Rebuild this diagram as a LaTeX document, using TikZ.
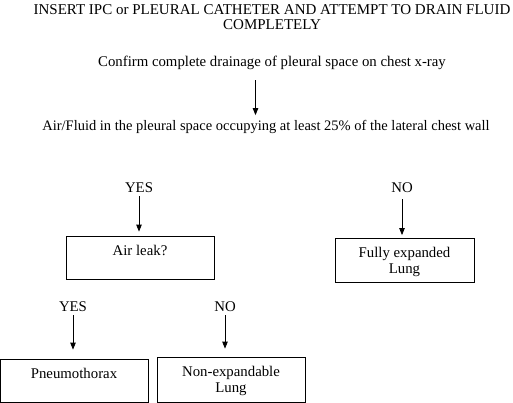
\documentclass[tikz,border=0pt]{standalone}
\usepackage{fontspec}
\setmainfont{Liberation Serif}
\usetikzlibrary{arrows.meta}
\newcommand\topst{\rule{0pt}{15.5pt}}
\newcommand\botst{\rule[-4.8pt]{0pt}{4.8pt}}
\newcommand\onetop{\rule{0pt}{11pt}}
\newcommand\onebot{\rule[-15.4pt]{0pt}{15.4pt}}
\begin{document}
\begin{tikzpicture}[x=1pt,y=-1pt,
  lbl/.style={inner sep=0pt, font=\fontsize{14.8}{16}\selectfont},
  box/.style={draw, line width=0.8pt, align=center, inner sep=0pt,
    font=\fontsize{14.8}{16}\selectfont},
  arr/.style={-{Triangle[width=5.5pt,length=7pt]}, line width=0.8pt}]
\useasboundingbox (0,0) rectangle (513,403);
\clip (0,0) rectangle (513,403);
% top texts
\node[lbl, align=center, font=\fontsize{15}{15.3}\selectfont] (title) at (272,17)
  {INSERT IPC or PLEURAL CATHETER AND ATTEMPT TO DRAIN FLUID\\COMPLETELY};
\node[lbl] (conf) at (272,63) {Confirm complete drainage of pleural space on chest x-ray};
\node[lbl, font=\fontsize{14.5}{16}\selectfont] (fluid) at (266,127) {Air/Fluid in the pleural space occupying at least 25\% of the lateral chest wall};
\coordinate (ax) at (255.5,0);
\draw[arr, shorten <=10pt, shorten >=5pt] (conf.south -| ax) -- (fluid.north -| ax);
% labels
\node[lbl] (yes1) at (139,188) {YES};
\node[lbl] (no1) at (402,188) {NO};
\node[lbl] (yes2) at (73,307) {YES};
\node[lbl] (no2) at (225,307) {NO};
% boxes
\node[box, minimum width=148pt, minimum height=43pt] (leak) at (140,257.5) {\onetop Air leak?\onebot};
\node[box, minimum width=139pt, minimum height=44pt] (full) at (404.5,260.5) {\topst Fully expanded\\Lung\botst};
\node[box, minimum width=148pt, minimum height=43pt] (pneu) at (74,380.5) {\onetop Pneumothorax\onebot};
\node[box, minimum width=148pt, minimum height=45pt] (nonexp) at (231,379.5) {\topst Non-expandable\\Lung\botst};
% arrows
\draw[arr, shorten <=3pt, shorten >=4pt] (yes1.south) -- (leak.north -| yes1.south);
\draw[arr, shorten <=6pt, shorten >=3pt] (no1.south) -- (full.north -| no1.south);
\draw[arr, shorten <=3pt, shorten >=9pt] (yes2.south) -- (pneu.north -| yes2.south);
\draw[arr, shorten <=3pt, shorten >=8pt] (no2.south) -- (nonexp.north -| no2.south);
\end{tikzpicture}
\end{document}
